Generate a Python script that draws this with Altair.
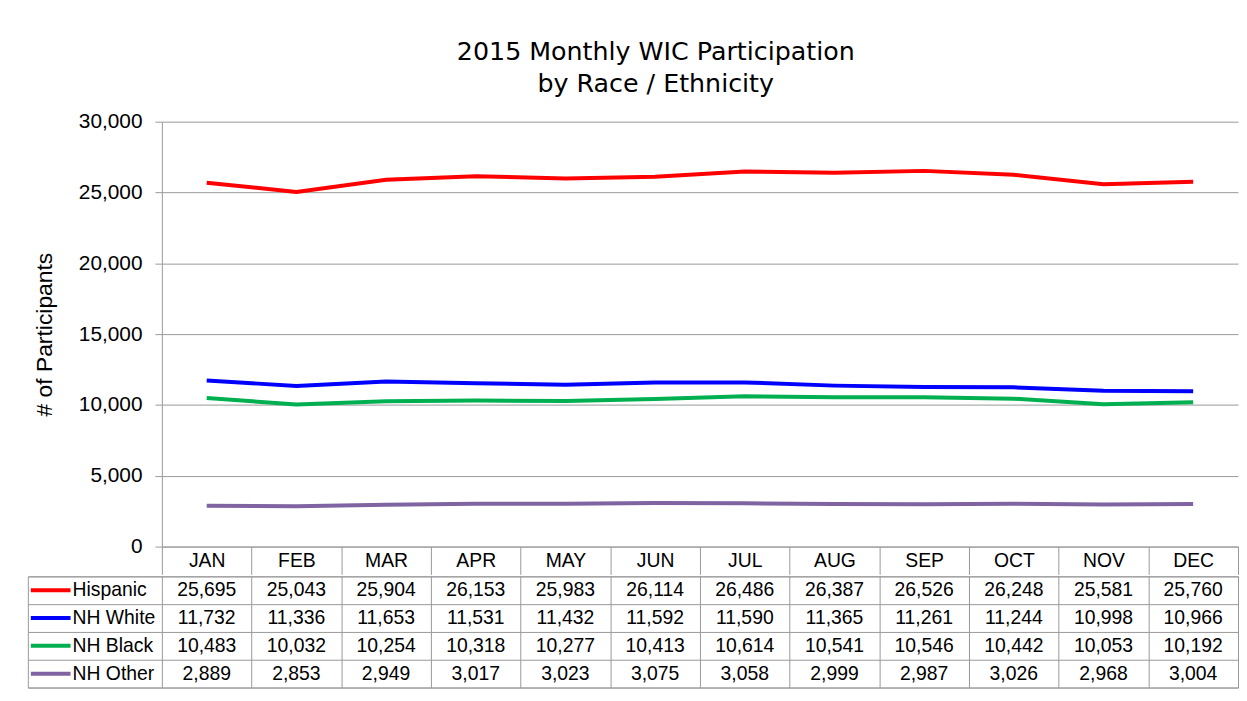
import altair as alt
import pandas as pd

months = ["JAN", "FEB", "MAR", "APR", "MAY", "JUN", "JUL", "AUG", "SEP", "OCT", "NOV", "DEC"]
series_names = ["Hispanic", "NH White", "NH Black", "NH Other"]
series_colors = ["#FF0000", "#0000FF", "#00B050", "#8064A2"]

hispanic = [25695, 25043, 25904, 26153, 25983, 26114, 26486, 26387, 26526, 26248, 25581, 25760]
nh_white = [11732, 11336, 11653, 11531, 11432, 11592, 11590, 11365, 11261, 11244, 10998, 10966]
nh_black = [10483, 10032, 10254, 10318, 10277, 10413, 10614, 10541, 10546, 10442, 10053, 10192]
nh_other = [2889, 2853, 2949, 3017, 3023, 3075, 3058, 2999, 2987, 3026, 2968, 3004]

y_ticks = [0, 5000, 10000, 15000, 20000, 25000, 30000]

title_lines = ["2015 Monthly WIC Participation", "by Race / Ethnicity"]
y_title = "# of Participants"

rows = []
for name, vals in zip(series_names, [hispanic, nh_white, nh_black, nh_other]):
    for m, v in zip(months, vals):
        rows.append({"series": name, "month": m, "value": v})
df = pd.DataFrame(rows)

FONT = "Liberation Sans"
GRID = "#999999"
W = 1219
LEGW = 135

xscale = alt.Scale(domain=months, range=[LEGW, W], paddingInner=0, paddingOuter=0)
cscale = alt.Scale(domain=series_names, range=series_colors)
rowscale = alt.Scale(domain=series_names, paddingInner=0, paddingOuter=0)

lines = alt.Chart(df).mark_line(strokeWidth=4).encode(
    x=alt.X("month:N", scale=xscale,
            axis=alt.Axis(title=None, labelAngle=0, tickBand="extent", tickSize=28,
                          tickColor=GRID, domainColor=GRID, labelPadding=-14,
                          labelBaseline="middle", labelFontSize=19.5, labelFont=FONT,
                          labelColor="black", grid=False)),
    y=alt.Y("value:Q", scale=alt.Scale(domain=[0, 30000], nice=False),
            axis=alt.Axis(values=y_ticks, format=",.0f", offset=-LEGW, tickSize=7,
                          tickColor=GRID, domainColor=GRID, gridColor=GRID, grid=True,
                          labelPadding=13, labelFontSize=21, labelFont=FONT,
                          labelColor="black", title=y_title, titleFont=FONT,
                          titleFontSize=23, titleFontWeight="normal", titleColor="black",
                          titleX=-118, titleBaseline="middle")),
    color=alt.Color("series:N", scale=cscale, legend=None),
).properties(width=W, height=428, view=alt.ViewBackground(stroke="transparent"))

tx_axis = alt.Axis(title=None, labels=False, ticks=False, domain=False, grid=True,
                   tickBand="extent", gridColor=GRID)
ty_axis = alt.Axis(title=None, labels=False, domain=False, ticks=True, tickSize=LEGW,
                   tickBand="extent", tickColor=GRID, offset=-LEGW, grid=True,
                   gridColor=GRID)

table_text = alt.Chart(df).mark_text(fontSize=19.5, font=FONT, color="black").encode(
    x=alt.X("month:N", scale=xscale, axis=tx_axis),
    y=alt.Y("series:N", scale=rowscale, axis=ty_axis),
    text=alt.Text("value:Q", format=",.0f"),
)

legend_layer = alt.Chart(df).mark_line(strokeWidth=4).encode(
    x=alt.X("month:N", scale=xscale, axis=tx_axis),
    y=alt.Y("series:N", scale=rowscale, axis=ty_axis),
    color=alt.Color("series:N", scale=cscale,
                    legend=alt.Legend(title=None, orient="none", legendX=1, legendY=0,
                                      direction="vertical", symbolType="stroke",
                                      symbolSize=1600, symbolStrokeWidth=4,
                                      clipHeight=28, rowPadding=0, padding=0,
                                      labelFont=FONT, labelFontSize=19.5,
                                      labelColor="black", labelOffset=0,
                                      labelLimit=200)),
).transform_filter("false")

table = alt.layer(table_text, legend_layer).properties(
    width=W, height=112, view=alt.ViewBackground(stroke=GRID))

chart = alt.vconcat(
    lines, table, spacing=0,
    title=alt.TitleParams(text=title_lines, font="DejaVu Sans", fontSize=25.5,
                          fontWeight="normal", color="black", anchor="middle",
                          lineHeight=32, offset=13, dx=23),
).resolve_scale(color="independent").properties(
    padding={"left": 19, "top": 30, "right": 0, "bottom": 4}
).configure(background="white")

chart.save("out.html", embed_options={"renderer": "svg", "actions": False})
